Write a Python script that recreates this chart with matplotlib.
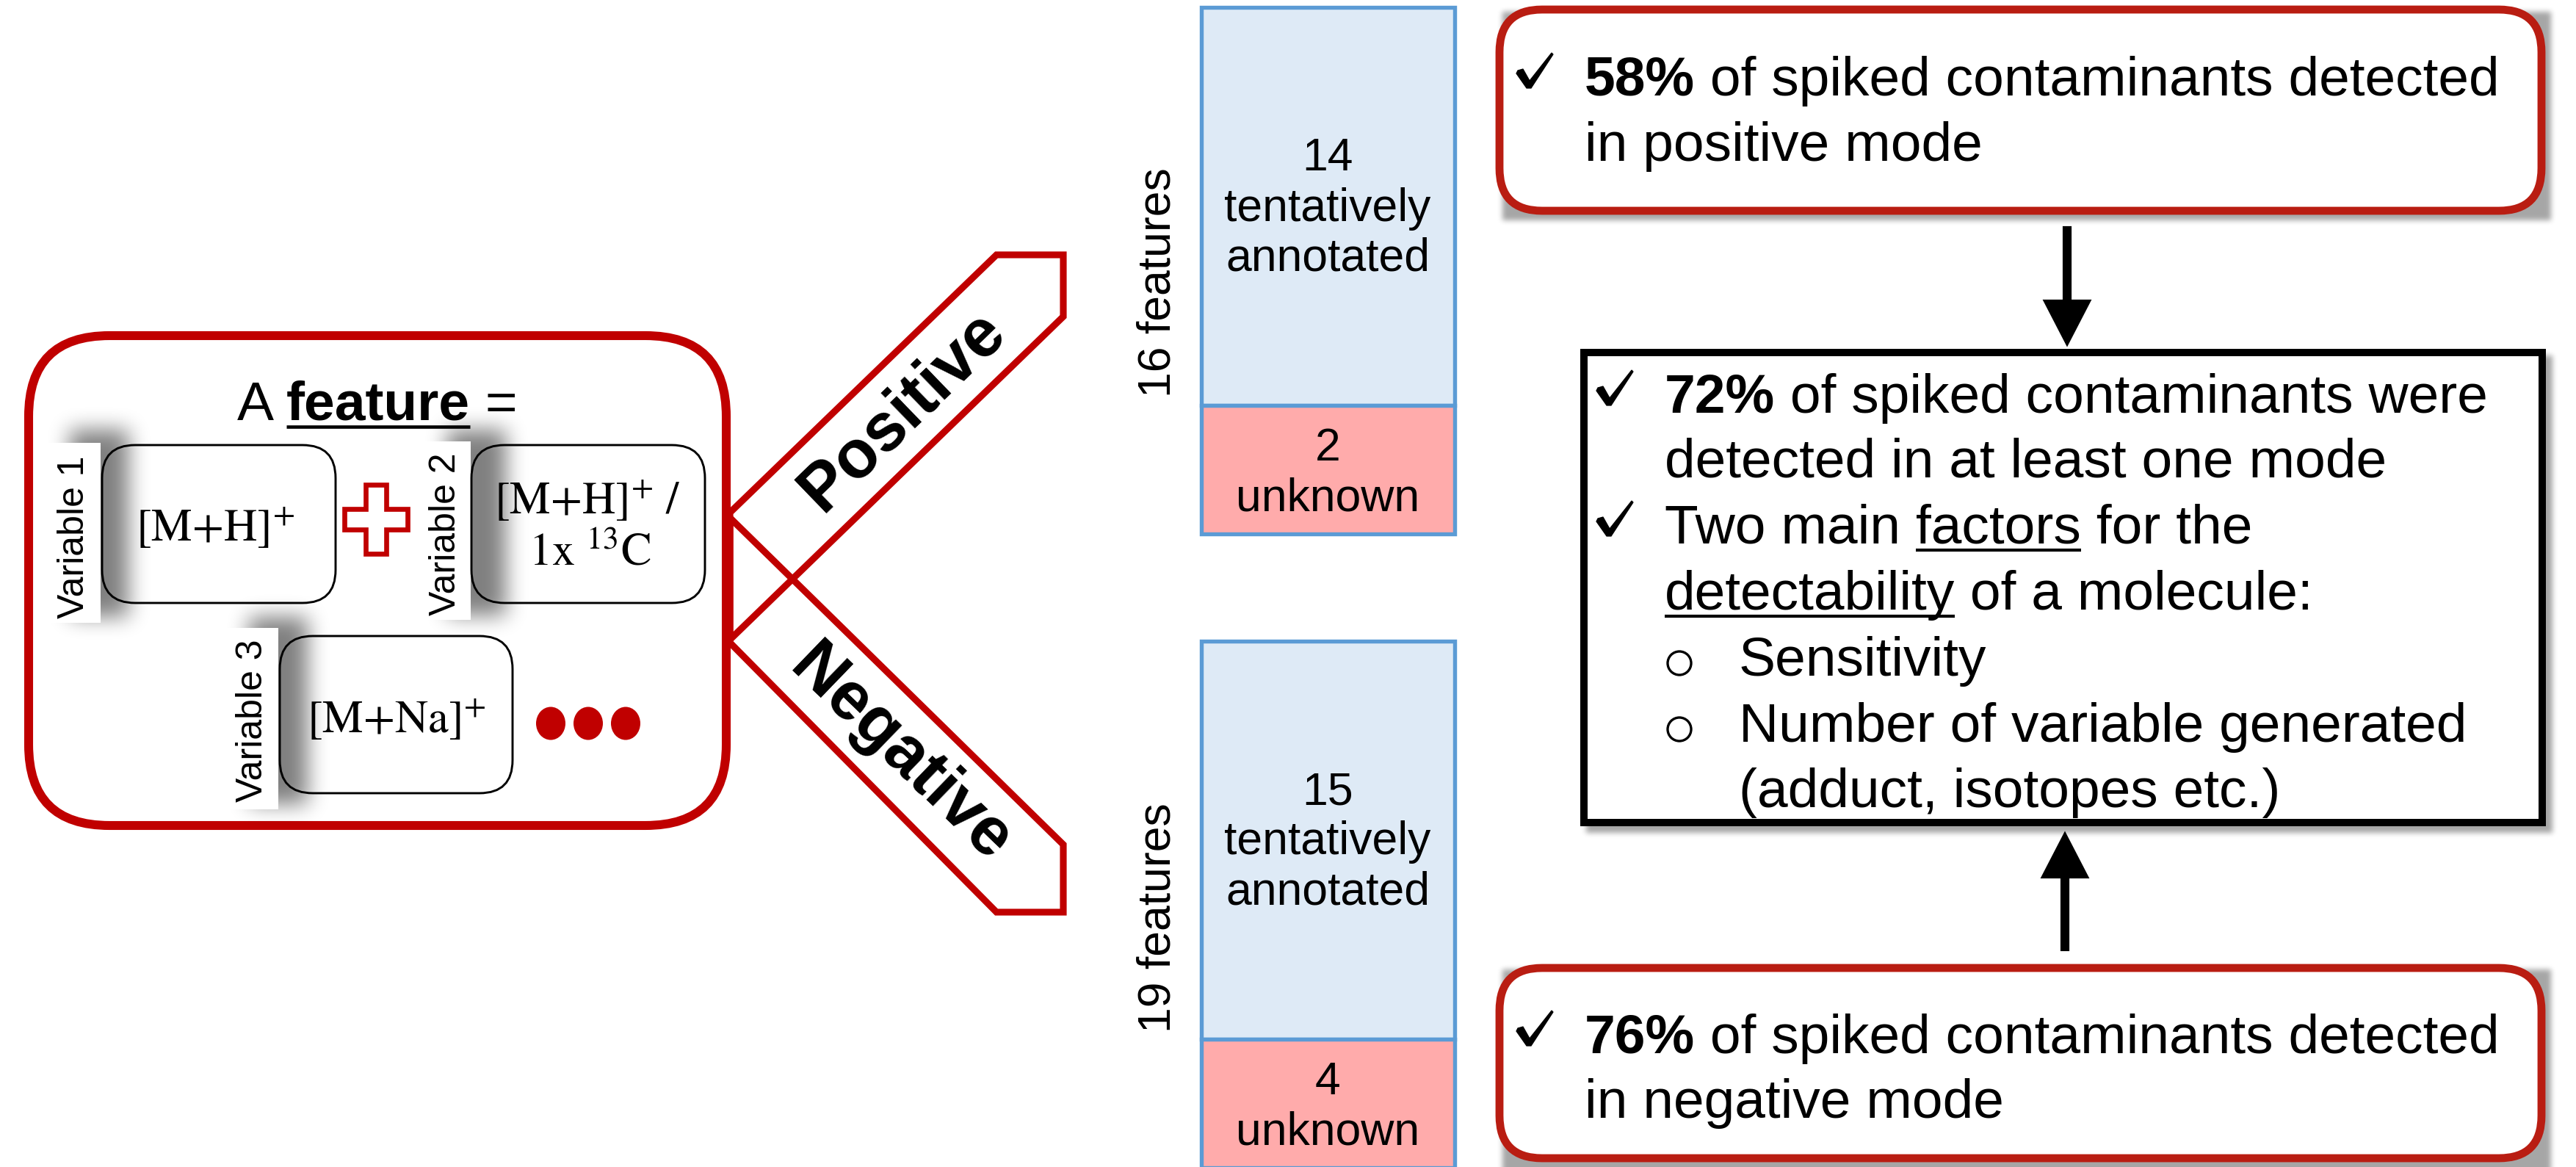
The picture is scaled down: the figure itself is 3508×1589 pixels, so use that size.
import matplotlib
matplotlib.use('Agg')
import matplotlib.pyplot as plt
import numpy as np
from matplotlib.patches import FancyBboxPatch, Polygon, Rectangle, Ellipse, FancyArrow, Circle

plt.rcParams['mathtext.fontset'] = 'stix'
FONT = ['Liberation Sans', 'DejaVu Sans']

# data
modes = ['Positive', 'Negative']
total_features = [16, 19]
annotated = [14, 15]
unknown = [2, 4]
pct_mode = [58, 76]
pct_any = 72
var_names = ['Variable 1', 'Variable 2', 'Variable 3']
adduct_1 = r'$[\mathrm{M}{+}\mathrm{H}]^{+}$'
adduct_2 = [r'$[\mathrm{M}{+}\mathrm{H}]^{+}\ /$', r'$\mathrm{1x}\ {}^{13}\mathrm{C}$']
adduct_3 = r'$[\mathrm{M}{+}\mathrm{Na}]^{+}$'
factors = ['Sensitivity', 'Number of variable generated', '(adduct, isotopes etc.)']

RED = '#C00000'
RED2 = '#B91D12'
BLUE_EDGE = '#5B9BD5'
BLUE_FILL = '#DEEAF6'
PINK_FILL = '#FFABAB'

W, H = 3508, 1589
fig = plt.figure(figsize=(W / 300, H / 300), dpi=300)
ax = fig.add_axes([0, 0, 1, 1])
ax.set_xlim(0, W)
ax.set_ylim(H, 0)
ax.axis('off')
rend = fig.canvas.get_renderer()


def rbox(x0, y0, x1, y1, r, ec, lw, fc='white', z=4):
    p = FancyBboxPatch((x0, y0), x1 - x0, y1 - y0,
                       boxstyle='round,pad=0,rounding_size=%d' % r,
                       ec=ec, fc=fc, lw=lw, zorder=z)
    ax.add_patch(p)


def runs(x, y, parts, fs, center=False, ul_off=9, ul_lw=1.0):
    # parts: (text, bold, underline)
    objs = []
    for s, bold, ul in parts:
        t = ax.text(0, y, s, fontsize=fs, family=FONT, va='baseline', ha='left',
                    fontweight='bold' if bold else 'normal', zorder=7)
        w = t.get_window_extent(renderer=rend).width
        objs.append((t, w, ul, s))
    total = sum(o[1] for o in objs)
    if center:
        x = x - total / 2
    for t, w, ul, s in objs:
        t.set_x(x)
        if ul:
            ax.plot([x, x + w], [y + ul_off, y + ul_off], color='black', lw=ul_lw, zorder=7,
                    solid_capstyle='butt')
        x += w


# ---- soft shadows (blurred mask) ----
def blur1d(a, r, axis):
    a = np.moveaxis(a, axis, -1)
    p = np.pad(a, [(0, 0)] * (a.ndim - 1) + [(r + 1, r)], mode='edge')
    c = np.cumsum(p, axis=-1)
    out = (c[..., 2 * r + 1:] - c[..., :-2 * r - 1]) / (2 * r + 1)
    return np.moveaxis(out, -1, axis)


def soft(mask, r):
    for _ in range(3):
        mask = blur1d(mask, r, 0)
        mask = blur1d(mask, r, 1)
    return mask


sh = np.zeros((H, W))
for (x0, x1, y0, y1) in [(95, 175, 585, 840), (609, 689, 585, 838), (339, 419, 840, 1095)]:
    sh[y0:y1, x0:x1] = 1.0
sh = soft(sh, 13) * 0.5
sh2 = np.zeros((H, W))
for (x0, x1, y0, y1) in [(2046, 3474, 16, 300), (2160, 3476, 484, 1134), (2046, 3474, 1320, 1589)]:
    sh2[y0:y1, x0:x1] = 1.0
sh2 = soft(sh2, 3) * 0.35
img = np.zeros((H, W, 4))
img[..., 3] = sh
ax.imshow(img, extent=(0, W, H, 0), zorder=2, interpolation='bilinear')
img2 = np.zeros((H, W, 4))
img2[..., 3] = sh2
ax.imshow(img2, extent=(0, W, H, 0), zorder=2.5, interpolation='bilinear')
ax.set_xlim(0, W)
ax.set_ylim(H, 0)

# ---- left "feature" box ----
rbox(39, 457, 989, 1124, 110, RED, 2.9, fc='white', z=0.5)
runs(514, 572, [('A ', False, False), ('feature', True, True), (' =', False, False)], 18,
     center=True, ul_off=9, ul_lw=1.1)

var_boxes = [(139, 606, 457, 821), (642, 606, 960, 821), (381, 866, 698, 1080)]
label_rects = [(62, 603, 137, 848), (576, 601, 641, 844), (306, 855, 379, 1102)]
label_pos = [(101, 731), (607, 727), (344, 981)]
for (x0, y0, x1, y1) in var_boxes:
    rbox(x0, y0, x1, y1, 45, 'none', 0, fc='white', z=1)
    rbox(x0, y0, x1, y1, 45, 'black', 0.7, fc='none', z=4)
for (x0, y0, x1, y1) in label_rects:
    ax.add_patch(Rectangle((x0, y0), x1 - x0, y1 - y0, fc='white', ec='none', zorder=3))
for name, (lx, ly) in zip(var_names, label_pos):
    ax.text(lx, ly, name, fontsize=12, family=FONT, rotation=90, ha='center', va='center', zorder=7)

ax.text(293, 720, adduct_1, fontsize=15, ha='center', va='center', zorder=7)
ax.text(800, 683, adduct_2[0], fontsize=15, ha='center', va='center', zorder=7)
ax.text(803, 753, adduct_2[1], fontsize=15, ha='center', va='center', zorder=7)
ax.text(540, 981, adduct_3, fontsize=15, ha='center', va='center', zorder=7)

# red outlined plus
cx, cy, hx, hy, t = 512, 707, 43, 47, 14
cross = [(cx - t, cy - hy), (cx + t, cy - hy), (cx + t, cy - t), (cx + hx, cy - t), (cx + hx, cy + t),
         (cx + t, cy + t), (cx + t, cy + hy), (cx - t, cy + hy), (cx - t, cy + t), (cx - hx, cy + t),
         (cx - hx, cy - t), (cx - t, cy - t)]
ax.add_patch(Polygon(cross, closed=True, fc='white', ec=RED, lw=1.6, zorder=5))

# ellipsis dots
for dx in [750, 801, 852]:
    ax.add_patch(Ellipse((dx, 985), 40, 45, fc=RED, ec='none', zorder=5))

# ---- Positive / Negative chevrons ----
pos_poly = [(994, 698), (1357, 347), (1448, 347), (1448, 431), (994, 871)]
neg_poly = [(994, 705), (1448, 1150), (1448, 1242), (1357, 1242), (994, 875)]
for poly in (pos_poly, neg_poly):
    ax.add_patch(Polygon(poly, closed=True, fill=False, ec=RED, lw=2.2, zorder=4, joinstyle='miter'))
ax.text(1230, 560, modes[0], fontsize=22, fontweight='bold', family=FONT, rotation=44,
        ha='center', va='center', rotation_mode='anchor', zorder=7)
ax.text(1226, 1028, modes[1], fontsize=22, fontweight='bold', family=FONT, rotation=-44,
        ha='center', va='center', rotation_mode='anchor', zorder=7)

# ---- stacked bars ----
bar_x, bar_w = 1808, 345
bar_tops = [10, 873]
seg_h = [542, 175]
feat_y = [385, 1250]
for i in range(2):
    top = bar_tops[i]
    ax.bar(bar_x, seg_h[0], bottom=top, width=bar_w, color=BLUE_FILL, edgecolor=BLUE_EDGE,
           linewidth=1.3, zorder=3)
    ax.bar(bar_x, seg_h[1], bottom=top + seg_h[0], width=bar_w, color=PINK_FILL,
           edgecolor=BLUE_EDGE, linewidth=1.3, zorder=3)
    ax.text(bar_x, top + seg_h[0] / 2 + 3, '%d\ntentatively\nannotated' % annotated[i],
            fontsize=15, family=FONT, ha='center', va='center', zorder=7, linespacing=1.2)
    ax.text(bar_x, top + seg_h[0] + seg_h[1] / 2 + 5, '%d\nunknown' % unknown[i],
            fontsize=15, family=FONT, ha='center', va='center', zorder=7, linespacing=1.2)
    ax.text(1577, feat_y[i], '%d features' % total_features[i], fontsize=15, family=FONT,
            rotation=90, ha='center', va='center', zorder=7)

# ---- right boxes ----
rbox(2042, 13, 3461, 287, 58, RED2, 2.6)
rbox(2042, 1318, 3461, 1577, 58, RED2, 2.6)
ax.add_patch(Rectangle((2157, 480), 3462 - 2157, 1120 - 480, fc='white', ec='black', lw=2.4,
                       zorder=4, joinstyle='miter'))

FS = 18
# calligraphic check mark outline, 50x48 px, origin at top-left
CHK = np.array([(2, 24), (0, 28), (14, 48), (20, 48), (50, 2), (48, 0), (18, 38), (9, 22)], float)


def check(cx, base):
    pts = CHK + [cx - 25, base - 58]
    ax.add_patch(Polygon(pts, closed=True, fc='black', ec='black', lw=0.3, zorder=7))


def bullet(x, y):
    ax.add_patch(Circle((x, y), 16, fc='none', ec='black', lw=0.8, zorder=7))


check(2090, 130)
runs(2158, 130, [('%d%%' % pct_mode[0], True, False), (' of spiked contaminants detected', False, False)], FS)
runs(2158, 219, [('in positive mode', False, False)], FS)

check(2090, 1434)
runs(2158, 1434, [('%d%%' % pct_mode[1], True, False), (' of spiked contaminants detected', False, False)], FS)
runs(2158, 1522, [('in negative mode', False, False)], FS)

tx = 2267
check(2199, 562)
runs(tx, 562, [('%d%%' % pct_any, True, False), (' of spiked contaminants were', False, False)], FS)
runs(tx, 649, [('detected in at least one mode', False, False)], FS)
check(2199, 740)
runs(tx, 740, [('Two main ', False, False), ('factors', False, True), (' for the', False, False)], FS)
runs(tx, 830, [('detectability', False, True), (' of a molecule:', False, False)], FS)
bx, sx = 2287, 2368
fy = [920, 1010]
for k in range(2):
    bullet(bx, fy[k] - 17)
    runs(sx, fy[k], [(factors[k], False, False)], FS)
runs(sx, 1099, [(factors[2], False, False)], FS)

# arrows
ax.add_patch(FancyArrow(2815, 310, 0, 158, width=8, head_width=60, head_length=58,
                        length_includes_head=True, color='black', zorder=6))
ax.add_patch(FancyArrow(2812, 1293, 0, -157, width=8, head_width=60, head_length=58,
                        length_includes_head=True, color='black', zorder=6))

fig.savefig('out.png', dpi=300, facecolor='white')
